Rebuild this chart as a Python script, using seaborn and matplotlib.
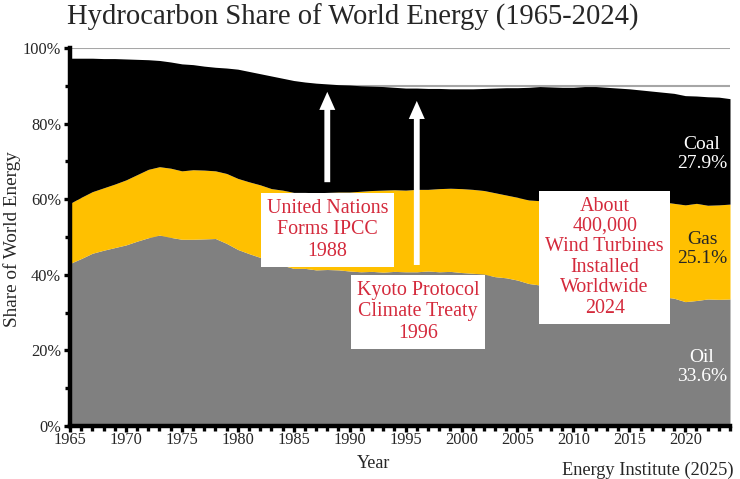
import pandas as pd
import matplotlib.pyplot as plt
import seaborn as sns
from matplotlib.ticker import MultipleLocator, PercentFormatter

# shares of world primary energy (%)
years = list(range(1965, 2025))
oil = [43.0, 44.3, 45.7, 46.5, 47.2, 47.9, 48.9, 49.8, 50.5, 49.9,
       49.4, 49.4, 49.5, 49.6, 48.3, 46.7, 45.6, 44.6, 43.2, 42.5,
       41.7, 41.7, 41.3, 41.4, 41.3, 41.0, 40.8, 40.9, 40.7, 40.9,
       40.8, 40.8, 41.0, 40.8, 40.9, 40.6, 40.4, 40.2, 39.5, 39.2,
       38.6, 37.7, 37.3, 36.6, 36.5, 35.9, 35.4, 35.2, 34.9, 34.7,
       34.9, 34.8, 34.5, 34.2, 33.8, 32.9, 33.2, 33.6, 33.5, 33.6]
gas = [15.9, 16.2, 16.3, 16.5, 16.8, 17.2, 17.6, 18.1, 18.1, 18.3,
       18.1, 18.4, 18.2, 17.9, 18.5, 18.8, 19.0, 19.2, 19.6, 19.9,
       20.1, 20.1, 20.4, 20.4, 20.6, 20.9, 21.3, 21.4, 21.7, 21.6,
       21.6, 21.8, 21.6, 22.0, 22.0, 22.2, 22.2, 22.1, 22.2, 21.9,
       21.9, 22.1, 22.3, 23.1, 23.5, 23.6, 23.5, 23.7, 23.8, 24.0,
       24.3, 24.7, 24.9, 25.1, 25.1, 25.6, 25.7, 24.8, 25.0, 25.1]
coal = [38.4, 36.8, 35.3, 34.2, 33.2, 32.0, 30.5, 29.0, 28.1, 28.1,
        28.3, 27.8, 27.5, 27.4, 27.9, 28.9, 29.2, 29.4, 29.8, 29.6,
        29.6, 29.2, 29.0, 28.7, 28.4, 28.3, 27.9, 27.6, 27.4, 27.1,
        27.0, 26.8, 26.7, 26.5, 26.3, 26.4, 26.6, 27.0, 27.7, 28.4,
        29.0, 29.8, 30.2, 30.0, 29.6, 30.1, 30.9, 30.9, 30.9, 30.7,
        30.0, 29.4, 29.2, 29.0, 29.1, 28.9, 28.4, 28.7, 28.5, 27.9]

df = pd.DataFrame({'Year': years, 'Oil': oil, 'Gas': gas, 'Coal': coal})

sns.set_theme(style="ticks")
plt.rcParams['font.family'] = ['Liberation Serif', 'DejaVu Serif']

fig = plt.figure(figsize=(7.4, 4.79), dpi=100)
ax = fig.add_axes([70/740, 1 - 426/479, 660/740, 378/479])

ax.stackplot(df['Year'], df['Oil'], df['Gas'], df['Coal'],
             colors=['#808080', '#ffc000', '#000000'], lw=0, zorder=2)

ax.set_xlim(1965, 2024)
ax.set_ylim(0, 100)
ax.xaxis.set_major_locator(MultipleLocator(5))
ax.xaxis.set_minor_locator(MultipleLocator(1))
ax.yaxis.set_major_locator(MultipleLocator(20))
ax.yaxis.set_minor_locator(MultipleLocator(10))
ax.yaxis.set_major_formatter(PercentFormatter(decimals=0))
ax.grid(axis='y', which='both', color='#a6a6a6', lw=1.5, zorder=0)
ax.set_axisbelow(True)

sns.despine(ax=ax)
for s in ['left', 'bottom']:
    ax.spines[s].set_linewidth(3.2)
    ax.spines[s].set_color('black')
    ax.spines[s].set_zorder(5)
ax.tick_params(which='both', direction='out', width=2.4, color='black', labelsize=11.8)
ax.tick_params(which='major', length=4.5)
ax.tick_params(which='minor', length=3.5)
ax.tick_params(axis='x', pad=0)
ax.tick_params(axis='y', pad=2)

fig.text(67/740, 1 - 17/479, 'Hydrocarbon Share of World Energy (1965-2024)',
         fontsize=20.6, ha='left', va='center')
fig.text(12/740, 1 - 239/479, 'Share of World Energy', rotation=90,
         fontsize=13.8, ha='center', va='center')
fig.text(374/740, 1 - 464/479, 'Year', fontsize=13, ha='center', va='center')
fig.text(562/740, 1 - 470/479, 'Energy Institute (2025)', fontsize=13.2,
         ha='left', va='center')

# event arrows
arrow = dict(arrowstyle='simple,head_length=1.3,head_width=1.15,tail_width=0.42',
             color='white', lw=0, mutation_scale=10, shrinkA=0, shrinkB=0)
ax.annotate('', xy=(1988, 88.4), xytext=(1988, 64.5), arrowprops=arrow, zorder=4)
ax.annotate('', xy=(1996, 86.0), xytext=(1996, 42.6), arrowprops=arrow, zorder=4)

red = '#d42a3c'
box = dict(boxstyle='square,pad=0.3', fc='white', ec='none')
ax.text(1988, 51.9, 'United Nations\nForms IPCC\n1988', color=red, fontsize=14.4,
        ha='center', va='center', ma='center', bbox=box, zorder=6)
ax.text(1996.1, 30.2, 'Kyoto Protocol\nClimate Treaty\n1996', color=red, fontsize=14.4,
        ha='center', va='center', ma='center', bbox=box, zorder=6)
ax.text(2012.8, 44.7, 'About\n400,000\nWind Turbines\nInstalled\nWorldwide\n2024',
        color=red, fontsize=14.4, ha='center', va='center', ma='center',
        linespacing=1.1, bbox=box, zorder=6)

# end-of-series labels
ax.text(2021.5, 72.0, 'Coal\n27.9%', color='white', fontsize=14, ha='center',
        va='center', ma='center', zorder=6)
ax.text(2021.5, 46.8, 'Gas\n25.1%', color='#262626', fontsize=14, ha='center',
        va='center', ma='center', zorder=6)
ax.text(2021.5, 15.6, 'Oil\n33.6%', color='white', fontsize=14, ha='center',
        va='center', ma='center', zorder=6)

plt.savefig('out.png', dpi=100)
